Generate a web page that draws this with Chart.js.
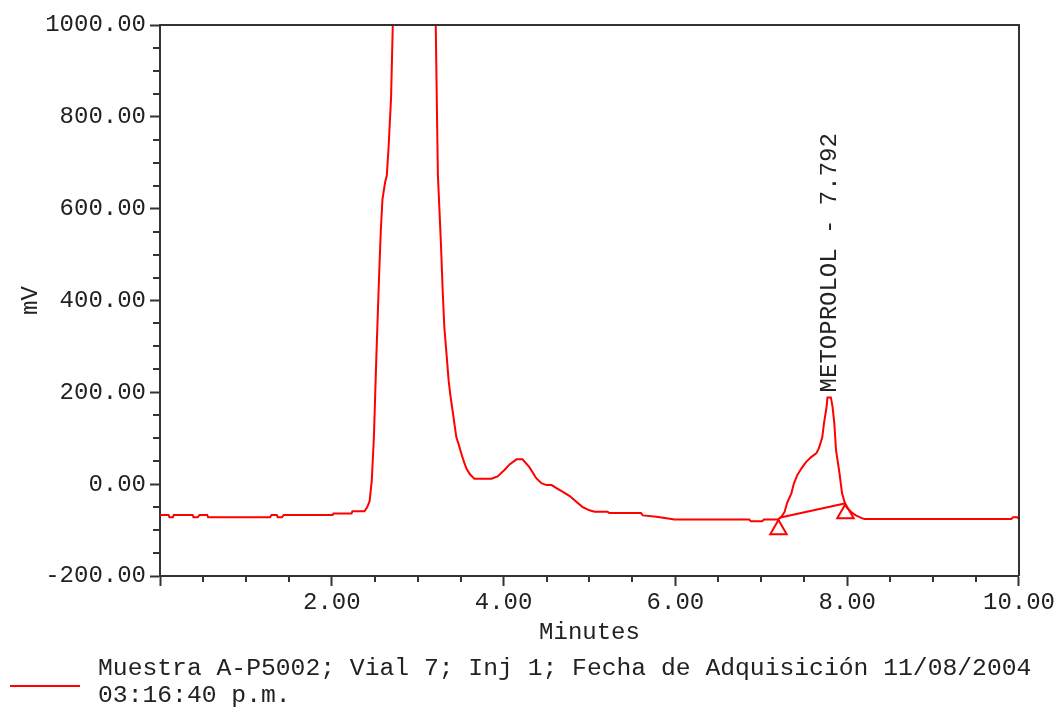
<!DOCTYPE html>
<html>
<head>
<meta charset="utf-8">
<title>Cromatograma - Metoprolol</title>
<script src="https://cdn.jsdelivr.net/npm/chart.js@4.4.1/dist/chart.umd.min.js"></script>
<style>
  html, body { margin: 0; padding: 0; background: #fff; }
  canvas { display: block; }
</style>
</head>
<body>
<canvas id="chromatogram" width="1057" height="709"></canvas>
<script>
// retention time (min) and detector signal (mV)
const times = [
  0, 0.10, 0.11, 0.15, 0.16, 0.38, 0.39, 0.44, 0.46, 0.55, 0.56, 1.28, 1.30, 1.36, 1.37, 1.42, 1.44,
  2.01, 2.02, 2.23, 2.24, 2.38, 2.41, 2.44, 2.465, 2.49, 2.52, 2.55, 2.57, 2.59, 2.62, 2.64, 2.66,
  2.69, 2.71, 2.75, 2.95, 3.18, 3.21, 3.22, 3.235, 3.27, 3.29, 3.31, 3.34, 3.36, 3.38, 3.41, 3.43,
  3.45, 3.48, 3.51, 3.54, 3.57, 3.61, 3.66, 3.86, 3.93, 4.01, 4.07, 4.15, 4.22, 4.30, 4.38, 4.44,
  4.50, 4.56, 4.62, 4.69, 4.77, 4.85, 4.92, 5.00, 5.06, 5.21, 5.23, 5.60, 5.62, 5.78, 5.99, 6.86,
  6.88, 7.01, 7.03, 7.19, 7.23, 7.27, 7.30, 7.35, 7.38, 7.42, 7.47, 7.52, 7.58, 7.64, 7.67, 7.71,
  7.73, 7.76, 7.77, 7.81, 7.83, 7.85, 7.87, 7.91, 7.94, 7.98, 8.00, 8.05, 8.10, 8.17, 8.20, 9.91,
  9.93, 9.98, 10.0
];
const signal = [
  -67, -67, -72, -72, -67, -67, -72, -72, -67, -67, -72, -72, -67, -67, -72, -72, -67,
  -67, -64, -64, -59, -59, -51, -37, 7, 102, 285, 451, 551, 621, 657, 672, 730,
  842, 1000, 1400, 1800, 1300, 1000, 865, 674, 526, 425, 342, 273, 226, 194, 155, 128,
  102, 85, 65, 48, 33, 21, 12, 12, 17, 31, 43, 54, 54, 37, 13, 2,
  -2, -2, -9, -17, -26, -39, -50, -57, -60, -60, -63, -63, -68, -71, -77, -77,
  -81, -81, -77, -77, -72, -61, -41, -20, 2, 20, 35, 48, 59, 67, 78, 102,
  133, 168, 189, 189, 168, 133, 74, 24, -20, -46, -52, -61, -68, -74, -76, -76,
  -72, -72, -76
];

// integration baseline under the metoprolol peak
const baselineTimes = [7.21, 7.97];
const baselineValues = [-73, -42];

// peak start / end markers (triangles)
const markerTimes = [7.20, 7.98];
const markerValues = [-99, -64];

const peakLabel = 'METOPROLOL - 7.792';
const peakTime = 7.792;
const peakTop = 189;

const yTickStep = 200, yMinorStep = 50;
const xTickStep = 2, xMinorStep = 0.5;

const legendLines = [
  'Muestra A-P5002; Vial 7; Inj 1; Fecha de Adquisición 11/08/2004',
  '03:16:40 p.m.'
];

const FONT = "'Courier New', 'Liberation Mono', monospace";
const RED = '#ff0000';
const AXIS = '#333333';
const TEXT = '#222222';

Chart.defaults.font.family = FONT;
Chart.defaults.font.size = 24;
Chart.defaults.color = TEXT;

const xy = (xs, ys) => xs.map((x, i) => ({ x: x, y: ys[i] }));

// top and right frame lines plus the short minor ticks
const framePlugin = {
  id: 'frame',
  afterDraw(chart) {
    const { ctx, chartArea: a, scales } = chart;
    ctx.save();
    ctx.strokeStyle = AXIS;
    ctx.lineWidth = 2;
    ctx.beginPath();
    ctx.moveTo(a.left, a.top);
    ctx.lineTo(a.right, a.top);
    ctx.lineTo(a.right, a.bottom);
    ctx.stroke();

    ctx.beginPath();
    for (let v = scales.y.min; v <= scales.y.max + 1e-9; v += yMinorStep) {
      if (Math.abs(v % yTickStep) < 1e-9) continue;
      const py = Math.round(scales.y.getPixelForValue(v));
      ctx.moveTo(a.left, py);
      ctx.lineTo(a.left - 7, py);
    }
    for (let v = scales.x.min; v <= scales.x.max + 1e-9; v += xMinorStep) {
      if (Math.abs(v / xTickStep - Math.round(v / xTickStep)) < 1e-9) continue;
      const px = Math.round(scales.x.getPixelForValue(v));
      ctx.moveTo(px, a.bottom);
      ctx.lineTo(px, a.bottom + 6);
    }
    ctx.stroke();
    ctx.restore();
  }
};

// vertical peak name above the metoprolol peak
const peakLabelPlugin = {
  id: 'peakLabel',
  afterDatasetsDraw(chart) {
    const { ctx, scales } = chart;
    const px = scales.x.getPixelForValue(peakTime);
    const py = scales.y.getPixelForValue(peakTop) - 5;
    ctx.save();
    ctx.translate(px, py);
    ctx.rotate(-Math.PI / 2);
    ctx.font = '24px ' + FONT;
    ctx.fillStyle = TEXT;
    ctx.textAlign = 'left';
    ctx.textBaseline = 'middle';
    ctx.fillText(peakLabel, 0, 0);
    ctx.restore();
  }
};

// legend under the x axis title
const legendPlugin = {
  id: 'sampleLegend',
  afterDraw(chart) {
    const { ctx, height } = chart;
    ctx.save();
    ctx.strokeStyle = RED;
    ctx.lineWidth = 2;
    ctx.beginPath();
    ctx.moveTo(10, height - 23);
    ctx.lineTo(80, height - 23);
    ctx.stroke();
    ctx.font = '24.7px ' + FONT;
    ctx.fillStyle = TEXT;
    ctx.textAlign = 'left';
    ctx.textBaseline = 'middle';
    ctx.fillText(legendLines[0], 98, height - 41);
    ctx.fillText(legendLines[1], 98, height - 14);
    ctx.restore();
  }
};

new Chart(document.getElementById('chromatogram'), {
  type: 'line',
  data: {
    datasets: [
      {
        label: 'signal',
        data: xy(times, signal),
        borderColor: RED,
        borderWidth: 2,
        pointRadius: 0,
        tension: 0,
        fill: false
      },
      {
        label: 'baseline',
        data: xy(baselineTimes, baselineValues),
        borderColor: RED,
        borderWidth: 2,
        pointRadius: 0,
        tension: 0,
        fill: false
      },
      {
        label: 'markers',
        data: xy(markerTimes, markerValues),
        showLine: false,
        pointStyle: 'triangle',
        pointRadius: 9.5,
        pointBorderColor: RED,
        pointBackgroundColor: 'rgba(255,255,255,0)',
        pointBorderWidth: 2
      }
    ]
  },
  options: {
    responsive: false,
    devicePixelRatio: 1,
    animation: false,
    layout: { padding: { top: 25, right: 37, left: 0, bottom: 0 } },
    plugins: {
      legend: { display: false },
      tooltip: { enabled: false }
    },
    scales: {
      x: {
        type: 'linear',
        min: 0,
        max: 10,
        afterFit(scale) { scale.height = 133; },
        border: { color: AXIS, width: 2 },
        grid: { drawOnChartArea: false, drawTicks: true, tickLength: 10, tickColor: AXIS, tickWidth: 2 },
        ticks: {
          stepSize: xTickStep,
          maxRotation: 0,
          padding: 2,
          color: TEXT,
          callback: v => (v === 0 ? '' : v.toFixed(2))
        },
        title: { display: true, text: 'Minutes', color: TEXT, padding: { top: 0, bottom: 62 } }
      },
      y: {
        type: 'linear',
        min: -200,
        max: 1000,
        afterFit(scale) { scale.width = 160; },
        border: { color: AXIS, width: 2 },
        grid: { drawOnChartArea: false, drawTicks: true, tickLength: 10, tickColor: AXIS, tickWidth: 2 },
        ticks: {
          stepSize: yTickStep,
          padding: 4,
          color: TEXT,
          callback: v => v.toFixed(2)
        },
        title: { display: true, text: 'mV', color: TEXT, padding: { top: 16, bottom: 0 } }
      }
    }
  },
  plugins: [framePlugin, peakLabelPlugin, legendPlugin]
});
</script>
</body>
</html>
